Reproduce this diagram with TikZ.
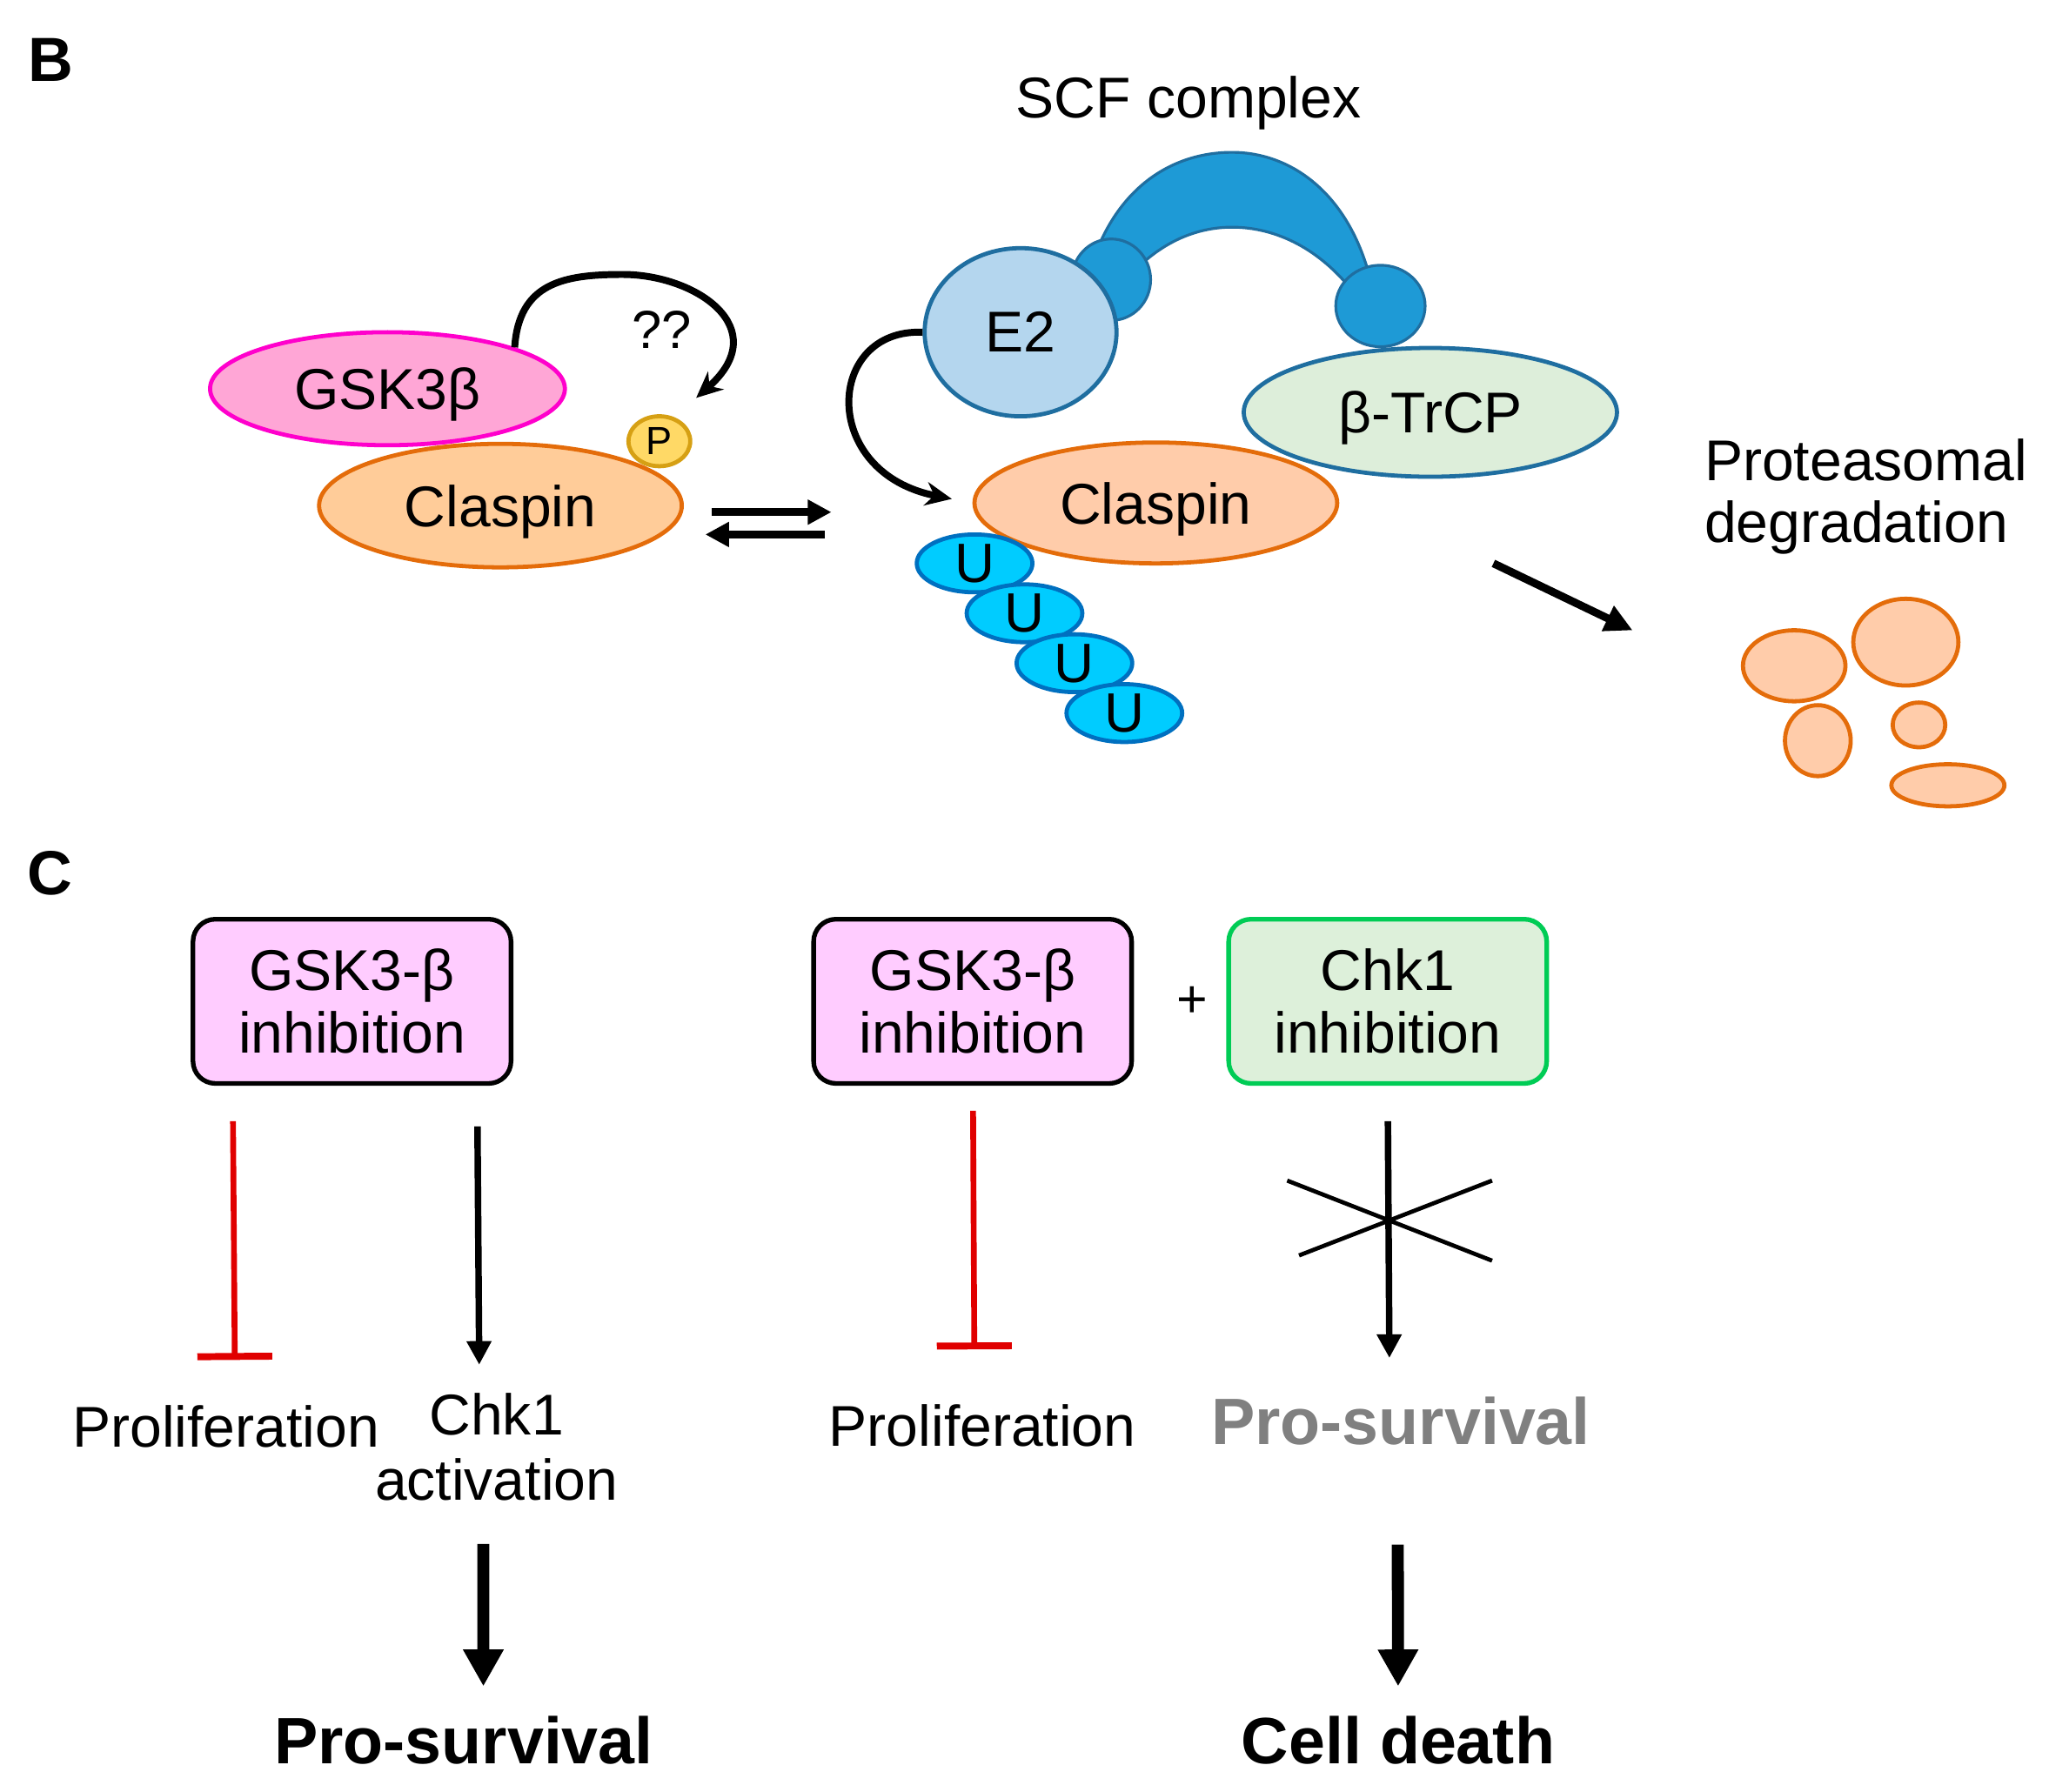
\documentclass[tikz,border=0pt]{standalone}
\usepackage{fontspec}
\setmainfont{Liberation Sans}
\usetikzlibrary{arrows.meta, shapes.geometric, calc}

\definecolor{gskpink}{RGB}{255,166,214}
\definecolor{gskline}{RGB}{255,0,204}
\definecolor{claspfill}{RGB}{255,204,153}
\definecolor{claspfilltwo}{RGB}{255,204,170}
\definecolor{claspline}{RGB}{228,108,10}
\definecolor{pfill}{RGB}{255,217,102}
\definecolor{pline}{RGB}{214,160,20}
\definecolor{etwofill}{RGB}{180,214,238}
\definecolor{scfline}{RGB}{31,110,160}
\definecolor{scfblue}{RGB}{30,154,214}
\definecolor{trcpfill}{RGB}{221,238,218}
\definecolor{ubfill}{RGB}{0,204,255}
\definecolor{ubline}{RGB}{0,112,192}
\definecolor{boxpink}{RGB}{255,204,255}
\definecolor{boxgreen}{RGB}{221,240,218}
\definecolor{boxgreenline}{RGB}{0,204,85}
\definecolor{inhred}{RGB}{224,0,0}
\definecolor{fadegray}{RGB}{128,128,128}

\begin{document}
\begin{tikzpicture}[x=0.01cm, y=-0.01cm,
    txt/.style={font=\fontsize{12.45}{14}\selectfont, inner sep=0pt},
    outcome/.style={font=\fontsize{14.2}{16}\selectfont\bfseries, inner sep=0pt},
    panel/.style={font=\fontsize{13.5}{16}\selectfont\bfseries, inner sep=0pt, anchor=base west},
    protein/.style={ellipse, draw, line width=0.9pt, inner sep=0pt, text depth=0pt, font=\fontsize{12.45}{14}\selectfont},
    ubq/.style={protein, fill=ubfill, draw=ubline, minimum width=0.88cm, minimum height=0.44cm, font=\fontsize{12}{14}\selectfont},
    frag/.style={fill=claspfilltwo, draw=claspline, line width=0.9pt},
    scfpart/.style={fill=scfblue, draw=scfline, line width=0.6pt},
    curvearrow/.style={line width=1.5pt, -{Stealth[length=0.2cm, width=0.18cm]}},
    eqarrow/.style={line width=1.6pt, -{Triangle[length=0.18cm, width=0.18cm]}},
    thinarrow/.style={line width=1.4pt, -{Triangle[length=0.18cm, width=0.18cm]}},
    inhib/.style={line width=1.25pt, inhred, -{Bar[width=0.57cm, line width=1.5pt]}},
    bigarrow/.style={line width=2.6pt, -{Triangle[length=0.28cm, width=0.29cm]}},
    treat/.style={draw, rounded corners=0.17cm, line width=1pt, minimum width=2.42cm, minimum height=1.25cm, align=center, inner sep=0pt, font=\fontsize{12.45}{13.6}\selectfont}]

    \useasboundingbox (0,0) rectangle (1560,1364);

    % panel B
    \node[panel] (labB) at (21,62) {B};
    \node[txt, anchor=base] (scf) at (905,90) {SCF complex};

    \draw[scfpart] (830,205) .. controls (850,140) and (895,116) .. (938,116) .. controls (985,116) and (1030,150) .. (1045,220) -- (1030,222) .. controls (1005,190) and (972,173) .. (938,173) .. controls (910,173) and (885,185) .. (865,205) -- cycle;
    \draw[scfpart] (846,213) ellipse [x radius=0.30cm, y radius=0.31cm];
    \draw[scfpart] (1051,233) ellipse [x radius=0.34cm, y radius=0.31cm];

    \node[protein, fill=etwofill, draw=scfline, minimum width=1.46cm, minimum height=1.28cm] (e2) at (777,253) {E2};
    \node[protein, fill=trcpfill, draw=scfline, minimum width=2.84cm, minimum height=0.98cm] (trcp) at (1089,314) {β-TrCP};
    \node[protein, fill=claspfilltwo, draw=claspline, minimum width=2.76cm, minimum height=0.92cm] (clr) at (880,383) {Claspin};
    \foreach \i/\x/\y in {1/742/429, 2/780/467, 3/818/505, 4/856/543} {
        \node[ubq] (u\i) at (\x,\y) {U};
    }

    \node[protein, fill=gskpink, draw=gskline, minimum width=2.7cm, minimum height=0.86cm] (gsk) at (295,296) {GSK3β};
    \node[protein, fill=claspfill, draw=claspline, minimum width=2.76cm, minimum height=0.94cm] (cll) at (381,385) {Claspin};
    \node[protein, fill=pfill, draw=pline, minimum width=0.47cm, minimum height=0.38cm, font=\fontsize{8.5}{9}\selectfont] (pho) at (502,336) {P};
    \node[txt, font=\fontsize{11.6}{13}\selectfont] (qq) at (504,251) {??};

    \coordinate (ptip) at (530,303);
    \draw[curvearrow] (gsk.18) .. controls (395,215) and (430,209) .. (474,209) .. controls (530,209) and (590,250) .. (ptip);
    \draw[curvearrow, shorten >=0.16cm] (e2.west) .. controls +(-74,-3) and +(-117,-23) .. (clr.west);

    \coordinate (eqa) at (542,390);
    \coordinate (eqb) at (633,390);
    \coordinate (eqc) at (628,407);
    \coordinate (eqd) at (537,407);
    \draw[eqarrow] (eqa) -- (eqb);
    \draw[eqarrow] (eqc) -- (eqd);

    \coordinate (dega) at (1137,429);
    \coordinate (degb) at (1243,480);
    \draw[eqarrow, line width=1.7pt, -{Triangle[length=0.21cm, width=0.2cm]}] (dega) -- (degb);

    \node[txt, align=left, anchor=west, font=\fontsize{12.45}{13.4}\selectfont] (prot) at (1297,378) {Proteasomal\\degradation};
    \foreach \x/\y/\rx/\ry in {1366/507/0.39/0.27, 1451/489/0.40/0.33, 1384/564/0.25/0.27, 1461/552/0.20/0.17, 1483/598/0.43/0.16} {
        \draw[frag] (\x,\y) ellipse [x radius=\rx cm, y radius=\ry cm];
    }

    % panel C
    \node[panel] (labC) at (20,681) {C};
    \node[treat, fill=boxpink] (boxa) at (268,762.5) {GSK3-β\\inhibition};
    \node[treat, fill=boxpink] (boxb) at (740.5,762.5) {GSK3-β\\inhibition};
    \node[inner sep=0pt, font=\fontsize{11.5}{13}\selectfont] (plus) at (908,763) {+};
    \node[treat, fill=boxgreen, draw=boxgreenline] (boxc) at (1056.5,762.5) {Chk1\\inhibition};

    \node[txt, anchor=base] (prola) at (172,1102) {Proliferation};
    \node[txt, align=center, font=\fontsize{12.45}{14.2}\selectfont] (chkact) at (378,1102) {Chk1\\activation};
    \node[outcome, anchor=base] (survA) at (353,1343) {Pro-survival};
    \node[txt, anchor=base] (prolb) at (748,1101) {Proliferation};
    \node[outcome, anchor=base, text=fadegray] (survB) at (1066.5,1100) {Pro-survival};
    \node[outcome, anchor=base] (death) at (1064.5,1343) {Cell death};

    \draw[inhib, shorten <=0.27cm, shorten >=0.34cm] ([xshift=0.32cm]boxa.south west) -- ([xshift=0.07cm]prola.north);
    \draw[thinarrow, shorten <=0.31cm, shorten >=0.21cm] ([xshift=2.18cm]boxa.south west) -- ([xshift=-0.13cm]chkact.north);
    \draw[inhib, shorten <=0.19cm, shorten >=0.41cm] ([xshift=1.23cm]boxb.south west) -- ([xshift=-0.06cm]prolb.north);
    \draw[thinarrow, shorten <=0.27cm, shorten >=0.29cm] (boxc.south) -- ([xshift=-0.085cm]survB.north);
    \draw[line width=0.9pt] (980,899) -- (1136,960) (989,956) -- (1136,899);

    \draw[bigarrow, shorten <=0.32cm, shorten >=0.22cm] ([xshift=-0.1cm]chkact.south) -- ([xshift=0.15cm]survA.north);
    \draw[bigarrow, shorten <=0.75cm, shorten >=0.22cm] ([xshift=-0.025cm]survB.south) -- (death.north);

\end{tikzpicture}
\end{document}
